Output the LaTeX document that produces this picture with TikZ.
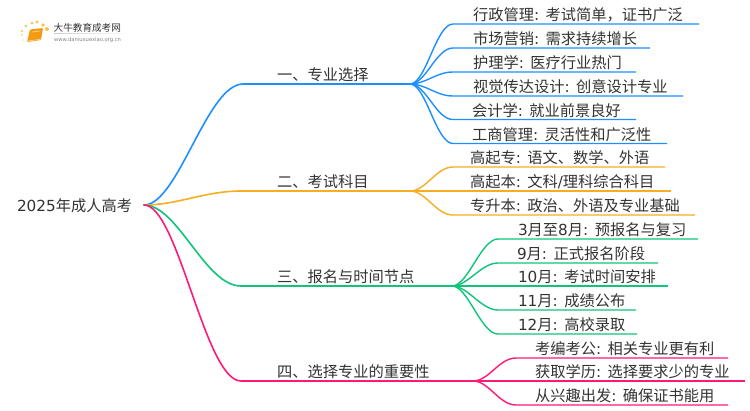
\documentclass[tikz,border=0pt]{standalone}
\usepackage{fontspec}
\setmainfont{Noto Sans CJK SC}
\newfontfamily\latf{DejaVu Sans}
\newcommand{\lf}[1]{{\latf #1}}
\definecolor{cblue}{HTML}{1E8FFF}
\definecolor{corange}{HTML}{F9AE22}
\definecolor{cgreen}{HTML}{10C47A}
\definecolor{cpink}{HTML}{FF1A78}
\definecolor{ctext}{HTML}{333333}
\definecolor{cbook}{HTML}{F59A14}
\definecolor{cdot}{HTML}{FBC24A}
\tikzset{
  x=1pt,y=-1pt,
  txt/.style={anchor=base west,inner sep=0pt,outer sep=0pt,text=ctext,font=\fontsize{15.25}{18}\selectfont},
  trunk/.style={line width=1.6pt,line cap=round},
  twig/.style={line width=1.4pt},
}
\usetikzlibrary{calc}
% \leaf{name}{hub}{colour}{text x}{curve end x}{line y}{end x}{text}
\newcommand{\leaf}[8]{%
  \coordinate (#1s) at (#5,#6);
  \coordinate (#1e) at (#7,#6);
  \node[txt] (#1) at (#4,#6-3.2) {#8};
  \draw[twig,#3] (#2) .. controls ($(#2)+(16,0)$) and ($(#1s)+(-17,0)$) .. (#1s) -- (#1e);
}
% \branch{name}{colour}{curve end x}{line y}{hub x}{text}
\newcommand{\branch}[6]{%
  \coordinate (#1s) at (#3,#4);
  \coordinate (#1) at (#5,#4);
  \node[txt] (#1t) at (277,#4-4) {#6};
  \draw[trunk,#2] (root) .. controls (178,205) and ($(#1s)+(-36,0)$) .. (#1s) -- (#1);
}
\begin{document}
\begin{tikzpicture}
\useasboundingbox (0,0) rectangle (750,410);
\fill[white] (0,0) rectangle (750,410);
% logo
\foreach \a/\b/\r in {23/40/.7, 22/35/.9, 22/31/1.1, 26/26/1.3, 32/23/1.5, 37/22/1.7, 43/25/1.8, 47/29/2}{\fill[cdot] (\a,\b) circle (\r);}
\fill[cbook,rounded corners=1pt] (30,29.5) -- (43,28) -- (41,40) -- (27,42) -- cycle;
\draw[white!70!cbook,line width=.5pt] (32,32) -- (40,31) (27.5,41) -- (40,39.4);
\node[anchor=base west,inner sep=0,text=ctext,font=\fontsize{9.6}{10}\selectfont] (logotext) at (53.5,31) {大牛教育成考网};
\node[anchor=base west,inner sep=0,text=gray,font=\latf\fontsize{5.2}{6}\selectfont] (logourl) at (54,41) {www.daniuxuexiao.org.cn};
\shade[left color=gray!40,right color=white] (54,33) rectangle (133,33.6);
% root
\coordinate (root) at (144,205);
\node[txt] (roott) at (17,211) {\lf{2025}年成人高考};
\branch{b1}{cblue}{243}{84}{410}{一、专业选择}
\branch{b2}{corange}{241}{191}{410}{二、考试科目}
\branch{b3}{cgreen}{241}{286}{452}{三、报名与时间节点}
\branch{b4}{cpink}{241}{381}{473}{四、选择专业的重要性}
\leaf{a1}{b1}{cblue}{473}{453}{24}{699}{行政管理\lf{: }考试简单，证书广泛}
\leaf{a2}{b1}{cblue}{473}{453}{48}{650}{市场营销\lf{: }需求持续增长}
\leaf{a3}{b1}{cblue}{473}{453}{72}{636}{护理学\lf{: }医疗行业热门}
\leaf{a4}{b1}{cblue}{473}{453}{96}{683}{视觉传达设计\lf{: }创意设计专业}
\leaf{a5}{b1}{cblue}{472}{453}{119.5}{636}{会计学\lf{: }就业前景良好}
\leaf{a6}{b1}{cblue}{472}{453}{143.5}{667}{工商管理\lf{: }灵活性和广泛性}
\leaf{c1}{b2}{corange}{470}{453}{167}{665}{高起专\lf{: }语文、数学、外语}
\leaf{c2}{b2}{corange}{470}{453}{191}{671}{高起本\lf{: }文科\lf{/}理科综合科目}
\leaf{c3}{b2}{corange}{470}{453}{215}{695}{专升本\lf{: }政治、外语及专业基础}
\leaf{d1}{b3}{cgreen}{518}{498}{239}{698}{\lf{3}月至\lf{8}月\lf{: }预报名与复习}
\leaf{d2}{b3}{cgreen}{517}{498}{263}{658}{\lf{9}月\lf{: }正式报名阶段}
\leaf{d3}{b3}{cgreen}{518}{498}{286}{668}{\lf{10}月\lf{: }考试时间安排}
\leaf{d4}{b3}{cgreen}{518}{498}{310}{636}{\lf{11}月\lf{: }成绩公布}
\leaf{d5}{b3}{cgreen}{518}{498}{334}{637}{\lf{12}月\lf{: }高校录取}
\leaf{e1}{b4}{cpink}{535}{516}{358}{728}{考编考公\lf{: }相关专业更有利}
\leaf{e2}{b4}{cpink}{535}{516}{381}{745}{获取学历\lf{: }选择要求少的专业}
\leaf{e3}{b4}{cpink}{535}{516}{405}{728}{从兴趣出发\lf{: }确保证书能用}
\end{tikzpicture}
\end{document}
